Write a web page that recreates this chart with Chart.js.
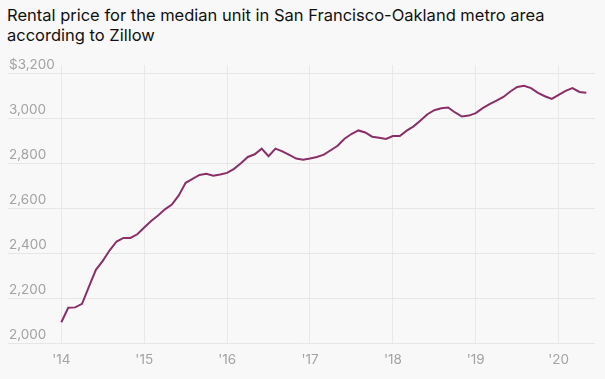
<!DOCTYPE html>
<html>
<head>
<meta charset="utf-8">
<script src="https://cdn.jsdelivr.net/npm/chart.js@4/dist/chart.umd.min.js"></script>
<style>
  body { margin: 0; background: #f8f8f8; }
  #wrap { position: relative; width: 605px; height: 379px; }
  #title {
    position: absolute; left: 7px; top: 5px;
    font-family: Inter, "Liberation Sans", Arial, sans-serif;
    font-size: 16.5px; line-height: 20px; color: #111;
  }
  canvas { position: absolute; left: 0; top: 0; }
</style>
</head>
<body>
<div id="wrap">
  <div id="title">Rental price for the median unit in San Francisco-Oakland metro area<br>according to Zillow</div>
  <canvas id="rentChart" width="605" height="379"></canvas>
</div>
<script>
// monthly, Jan 2014 .. May 2020
const startYear = 2014;
const rent = [
  2096, 2160, 2162, 2178, 2254, 2329, 2369, 2416, 2455, 2471, 2471, 2487,
  2517, 2546, 2571, 2598, 2619, 2660, 2716, 2734, 2751, 2756, 2748, 2753,
  2760, 2778, 2803, 2831, 2843, 2868, 2834, 2868, 2856, 2840, 2824, 2819,
  2824, 2831, 2841, 2861, 2881, 2912, 2933, 2949, 2940, 2921, 2916, 2911,
  2924, 2924, 2948, 2967, 2993, 3021, 3039, 3048, 3051, 3029, 3011, 3015,
  3026, 3048, 3066, 3082, 3098, 3122, 3142, 3148, 3137, 3116, 3101, 3089,
  3107, 3125, 3137, 3120, 3117
];
const yearLabels = ["'14", "'15", "'16", "'17", "'18", "'19", "'20"];
const yTicks = [2000, 2200, 2400, 2600, 2800, 3000, 3200];

const points = rent.map((v, i) => ({ x: i, y: v }));

const tickFont = { family: 'Inter, "Liberation Sans", Arial, sans-serif', size: 13.5 };

const ctx = document.getElementById('rentChart').getContext('2d');

new Chart(ctx, {
    type: 'line',
    data: {
        datasets: [{
            label: 'Rent',
            data: points,
            borderColor: '#8a2f67',
            borderWidth: 2,
            pointRadius: 0,
            tension: 0,
            fill: false
        }]
    },
    options: {
        responsive: false,
        animation: false,
        layout: {
            padding: { top: 65, left: 6, right: 10, bottom: 3 }
        },
        plugins: {
            legend: { display: false },
            tooltip: { enabled: false }
        },
        scales: {
            x: {
                type: 'linear',
                min: -7.72,
                max: 77.26,
                afterBuildTicks: (axis) => {
                    axis.ticks = yearLabels.map((l, i) => ({ value: i * 12 }));
                },
                grid: { color: '#e8e8e8', drawTicks: false },
                border: { display: false },
                ticks: {
                    padding: 8,
                    color: '#a3a3a3',
                    font: tickFont,
                    callback: (value) => yearLabels[Math.round(value / 12)]
                }
            },
            y: {
                min: 2000,
                max: 3240,
                afterBuildTicks: (axis) => {
                    axis.ticks = yTicks.map(v => ({ value: v }));
                },
                grid: { color: '#e6e6e6', drawTicks: false },
                border: { display: false },
                ticks: {
                    mirror: true,
                    padding: 1,
                    labelOffset: -9,
                    color: '#a3a3a3',
                    font: tickFont,
                    callback: (value) => value === 3200 ? '$3,200' : value.toLocaleString('en-US')
                }
            }
        }
    }
});
</script>
</body>
</html>
